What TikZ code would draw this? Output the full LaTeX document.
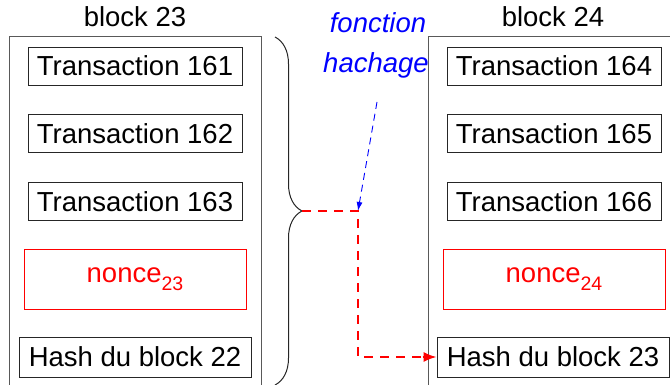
\documentclass[tikz,border=0pt]{standalone}
\usepackage{fontspec}
\setmainfont{Liberation Sans}
\usetikzlibrary{decorations.pathreplacing,arrows.meta}
\newcommand{\mysub}[1]{\raisebox{-0.28em}{\fontsize{19.5}{22}\selectfont #1}}
\begin{document}
\begin{tikzpicture}[x=1pt,y=-1pt,
  txbox/.style={draw=black!85,line width=0.9pt,minimum width=214pt,minimum height=38pt,inner sep=0pt,font=\fontsize{27.5}{30}\selectfont},
  noncebox/.style={draw=red,line width=0.9pt,minimum width=222pt,minimum height=60pt,inner sep=0pt,text=red,font=\fontsize{27.5}{30}\selectfont},
  hashbox/.style={draw=black!85,line width=0.9pt,minimum width=232pt,minimum height=40pt,inner sep=0pt,font=\fontsize{27.5}{30}\selectfont},
  blockframe/.style={draw=black!65,line width=1pt},
  lbl/.style={font=\fontsize{27.5}{30}\selectfont,anchor=base},
  bluelbl/.style={font=\fontsize{27.5}{30}\selectfont\itshape,text=blue,anchor=base},
  redarrow/.style={draw=red,line width=1.8pt,dash pattern=on 9pt off 7pt},
  bluearrow/.style={draw=blue,line width=0.9pt,dash pattern=on 7pt off 5pt,-{Latex[length=9pt,width=6pt]}}
]
\useasboundingbox (0,0) rectangle (670,385);
\clip (0,0) rectangle (670,385);
% block frames
\draw[blockframe] (9,400) -- (9,37) -- (261,37) -- (261,400);
\draw[blockframe] (428,400) -- (428,37) -- (700,37);
\node[lbl] (b23) at (135,27) {block 23};
\node[lbl] (b24) at (553,27) {block 24};
% left block
\node[txbox] (t161) at (135,66) {Transaction 161};
\node[txbox] (t162) at (135,133.5) {Transaction 162};
\node[txbox] (t163) at (135,201.5) {Transaction 163};
\node[noncebox] (n23) at (135,279) {nonce\mysub{23}};
\node[hashbox] (h22) at (135,357) {Hash du block 22};
% right block
\node[txbox] (t164) at (554,66) {Transaction 164};
\node[txbox] (t165) at (554,133.5) {Transaction 165};
\node[txbox] (t166) at (554,201.5) {Transaction 166};
\node[noncebox] (n24) at (554,279) {nonce\mysub{24}};
\node[hashbox] (h23) at (553,357) {Hash du block 23};
% brace
\coordinate (bt) at (275,37);
\coordinate (bb) at (275,385);
\draw[black!85,line width=1pt,decorate,decoration={brace,amplitude=27pt}] (bt) -- (bb);
\coordinate (tip) at (302,211);
\coordinate (corner) at (358,211);
% labels
\node[bluelbl] (f1) at (378,33) {fonction};
\node[bluelbl] (f2) at (376,73) {hachage};
\coordinate (bs) at (377,102);
% arrows
\draw[bluearrow] (bs) -- (corner);
\draw[redarrow] (tip) -- (corner) -- (corner |- h23.west) -- ([xshift=-12pt]h23.west);
\draw[red,-{Latex[length=13pt,width=10pt]},line width=1.8pt] ([xshift=-14pt]h23.west) -- (h23.west);
\end{tikzpicture}
\end{document}
